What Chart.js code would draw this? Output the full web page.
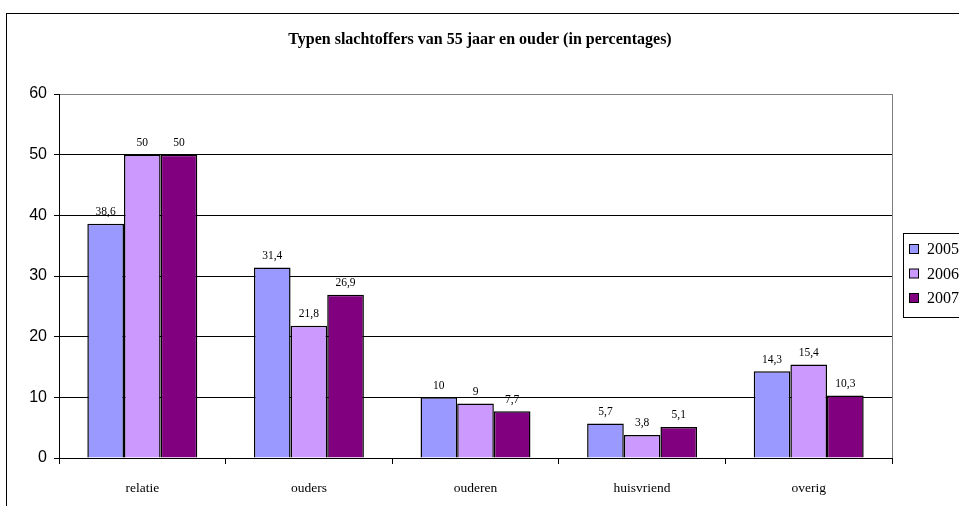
<!DOCTYPE html>
<html>
<head>
<meta charset="utf-8">
<script src="https://cdn.jsdelivr.net/npm/chart.js@4"></script>
<style>
  html, body { margin: 0; padding: 0; background: #fff; overflow: hidden; }
  #frame { position: absolute; left: 6px; top: 13px; width: 1000px; height: 600px; border: 1px solid #000; }
  #wrap { position: absolute; left: 0; top: 0; width: 959px; height: 506px; }
</style>
</head>
<body>
<div id="frame"></div>
<div id="wrap"><canvas id="chart"></canvas></div>
<script>
const title = 'Typen slachtoffers van 55 jaar en ouder (in percentages)';
const categories = ['relatie', 'ouders', 'ouderen', 'huisvriend', 'overig'];
const years = ['2005', '2006', '2007'];
const values2005 = [38.6, 31.4, 10, 5.7, 14.3];
const values2006 = [50, 21.8, 9, 3.8, 15.4];
const values2007 = [50, 26.9, 7.7, 5.1, 10.3];
const yTicks = [0, 10, 20, 30, 40, 50, 60];
const colors = ['#9999ff', '#cc99ff', '#800080'];

const serif = '"Liberation Serif", "Times New Roman", serif';
const sans = '"Liberation Sans", Arial, sans-serif';

// title, plot border, value labels and legend box
const extras = {
    id: 'extras',
    afterDraw(chart) {
        const ctx = chart.ctx;
        const area = chart.chartArea;
        ctx.save();

        // title
        ctx.fillStyle = '#000';
        ctx.font = 'bold 16px ' + serif;
        ctx.textAlign = 'center';
        ctx.textBaseline = 'middle';
        ctx.fillText(title, 480, 40);

        // right side of plot area
        ctx.strokeStyle = '#808080';
        ctx.lineWidth = 1;
        ctx.beginPath();
        ctx.moveTo(Math.round(area.right) + 0.5, area.top);
        ctx.lineTo(Math.round(area.right) + 0.5, area.bottom);
        ctx.stroke();

        // value labels
        ctx.font = '11.5px ' + serif;
        ctx.textBaseline = 'bottom';
        chart.data.datasets.forEach((ds, i) => {
            chart.getDatasetMeta(i).data.forEach((bar, j) => {
                const label = String(ds.data[j]).replace('.', ',');
                ctx.fillText(label, bar.x, bar.y - 6);
            });
        });

        // legend
        ctx.strokeStyle = '#000';
        ctx.strokeRect(903.5, 233.5, 120, 84);
        ctx.font = '16px ' + serif;
        ctx.textAlign = 'left';
        ctx.textBaseline = 'middle';
        years.forEach((y, i) => {
            const cy = 249 + i * 24.5;
            ctx.fillStyle = colors[i];
            ctx.fillRect(909.5, cy - 4.5, 9, 9);
            ctx.strokeRect(909.5, cy - 4.5, 9, 9);
            ctx.fillStyle = '#000';
            ctx.fillText(y, 927, cy + 1);
        });
        ctx.restore();
    }
};

new Chart(document.getElementById('chart'), {
    type: 'bar',
    data: {
        labels: categories,
        datasets: [values2005, values2006, values2007].map((vals, i) => ({
            label: years[i],
            data: vals,
            backgroundColor: colors[i],
            borderColor: '#000',
            borderWidth: 1.5,
            categoryPercentage: 0.66,
            barPercentage: 1.0
        }))
    },
    options: {
        responsive: true,
        maintainAspectRatio: false,
        animation: false,
        layout: { padding: { top: 94, right: 67, left: 0, bottom: 0 } },
        plugins: {
            legend: { display: false },
            title: { display: false },
            tooltip: { enabled: false }
        },
        scales: {
            x: {
                grid: { offset: true, drawOnChartArea: false, drawTicks: true, tickLength: 6, color: '#000' },
                border: { color: '#000' },
                ticks: { color: '#000', font: { family: serif, size: 13.5 }, padding: 16, maxRotation: 0 },
                afterFit(scale) { scale.height = 48; }
            },
            y: {
                min: yTicks[0],
                max: yTicks[yTicks.length - 1],
                afterBuildTicks(scale) { scale.ticks = yTicks.map(v => ({ value: v })); },
                grid: {
                    color: c => (c.tick && c.tick.value === 60 ? '#808080' : '#000'),
                    tickColor: '#000',
                    tickLength: 5
                },
                border: { color: '#000' },
                ticks: { color: '#000', font: { family: sans, size: 16 }, padding: 7 },
                afterFit(scale) { scale.width = 59; }
            }
        }
    },
    plugins: [extras]
});
</script>
</body>
</html>
